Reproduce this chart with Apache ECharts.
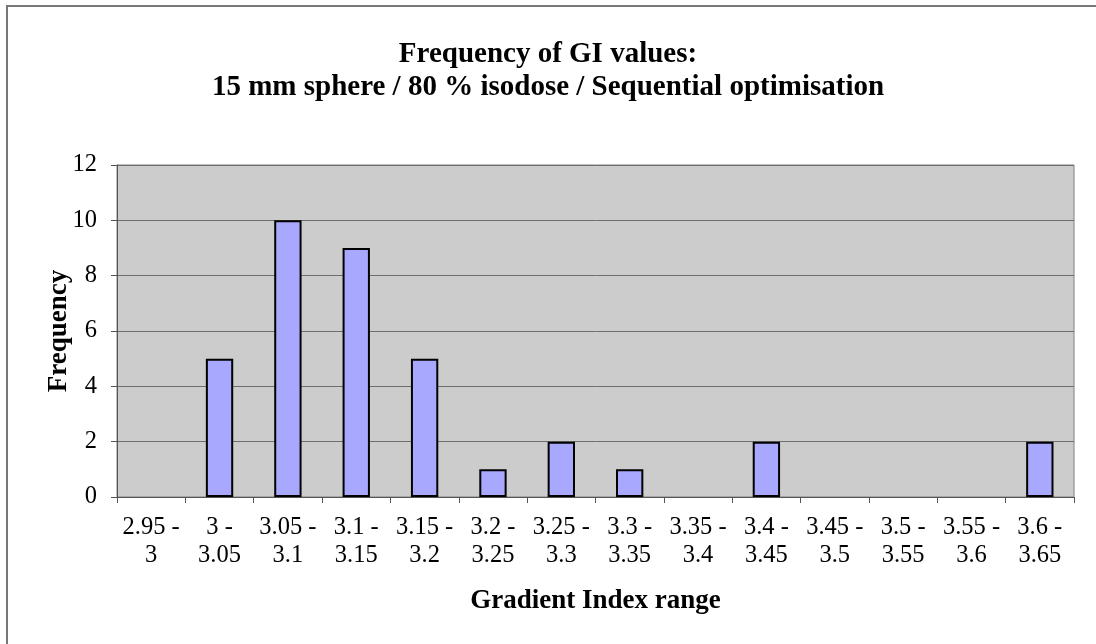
<!DOCTYPE html>
<html>
<head>
<meta charset="utf-8">
<script src="https://cdn.jsdelivr.net/npm/echarts@6/dist/echarts.min.js"></script>
<style>
  html, body { margin: 0; padding: 0; background: #fff; overflow: hidden; }
  #chart { width: 1096px; height: 644px; }
  .frame {
    position: absolute; left: 6px; top: 5px; width: 1200px; height: 800px;
    border-left: 2px solid #777; border-top: 2px solid #777;
    pointer-events: none;
  }
</style>
</head>
<body>
<div id="chart"></div>
<div class="frame"></div>
<script>
const categories = ['2.95 - 3', '3 - 3.05', '3.05 - 3.1', '3.1 - 3.15', '3.15 - 3.2', '3.2 - 3.25', '3.25 - 3.3',
  '3.3 - 3.35', '3.35 - 3.4', '3.4 - 3.45', '3.45 - 3.5', '3.5 - 3.55', '3.55 - 3.6', '3.6 - 3.65']
const frequency = [0, 5, 10, 9, 5, 1, 2, 1, 0, 2, 0, 0, 0, 2]

const titleLines = ['Frequency of GI values:', '15 mm sphere / 80 % isodose / Sequential optimisation']
const xName = 'Gradient Index range'
const yName = 'Frequency'

const font = '"Liberation Serif", "Times New Roman", serif'

const chart = echarts.init(document.getElementById('chart'))

chart.setOption({
  backgroundColor: '#fff',
  animation: false,
  title: {
    text: titleLines.join('\n'),
    left: 'center',
    top: 33,
    textStyle: { fontFamily: font, fontSize: 29, fontWeight: 'bold', color: '#000', lineHeight: 33 },
  },
  grid: {
    left: 117,
    right: 22,
    top: 165,
    bottom: 147,
    show: true,
    backgroundColor: '#cccccc',
    borderColor: '#808080',
    borderWidth: 1,
  },
  xAxis: {
    type: 'category',
    data: categories,
    boundaryGap: true,
    name: xName,
    nameLocation: 'middle',
    nameGap: 91,
    nameMoveOverlap: false,
    nameTextStyle: { fontFamily: font, fontSize: 27, fontWeight: 'bold', color: '#000' },
    axisLine: { lineStyle: { color: '#555', width: 1 } },
    axisTick: { show: true, length: 6, lineStyle: { color: '#555' } },
    axisLabel: {
      interval: 0,
      margin: 17,
      fontFamily: font,
      fontSize: 24.5,
      color: '#000',
      lineHeight: 28,
      formatter: (v) => v.replace(' - ', ' -\n'),
    },
  },
  yAxis: {
    type: 'value',
    min: 0,
    max: 12,
    interval: 2,
    name: yName,
    nameLocation: 'middle',
    nameGap: 44,
    nameMoveOverlap: false,
    nameTextStyle: { fontFamily: font, fontSize: 27, fontWeight: 'bold', color: '#000' },
    axisLine: { show: true, lineStyle: { color: '#555', width: 1 } },
    axisTick: { show: true, length: 6, lineStyle: { color: '#555' } },
    axisLabel: { margin: 20, fontFamily: font, fontSize: 24.5, color: '#000' },
    splitLine: { show: true, lineStyle: { color: '#6e6e6e', width: 1 } },
  },
  series: [{
    type: 'bar',
    // empty bins drawn as nothing, not a flat outlined bar
    data: frequency.map((v) => (v === 0 ? '-' : v)),
    barWidth: '40%',
    itemStyle: { color: '#a8a8ff', borderColor: '#000', borderWidth: 2 },
  }],
})
</script>
</body>
</html>
